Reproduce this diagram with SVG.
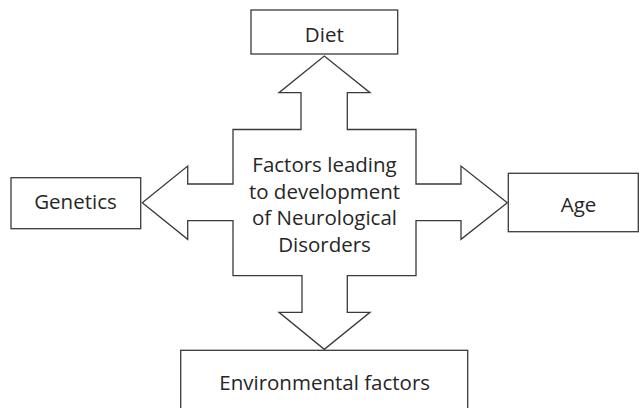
<svg xmlns="http://www.w3.org/2000/svg" width="639" height="408" viewBox="0 0 639 408">
<style>
.box{fill:#fff;stroke:#3a3a3a;stroke-width:1.3}
.arrow{fill:#fff;stroke:#3a3a3a;stroke-width:1.3;stroke-linejoin:miter}
text{font-family:"Open Sans","Liberation Sans",sans-serif;font-size:20.5px;fill:#262626;text-anchor:middle}
</style>
<rect width="639" height="408" fill="#fff"/>
<g id="connectors">
<polygon class="arrow" points="233,129.5 301,129.5 301,92.7 279,92.7 324.3,56 370,92.7 347.3,92.7 347.3,129.5 416,129.5 416,184 461,184 461,166 507.3,202.7 461,239.3 461,220.7 416,220.7 416,275.7 347.3,275.7 347.3,312.3 370,312.3 324.3,349.3 279,312.3 302,312.3 302,275.7 233,275.7 233,220.7 187.7,220.7 187.7,239.3 142.3,202.7 187.7,166 187.7,184 233,184"/>
</g>
<g id="center">
<text x="324.5" y="172">Factors leading</text>
<text x="324.5" y="198.5">to development</text>
<text x="324.5" y="225">of Neurological</text>
<text x="324.5" y="251.5">Disorders</text>
</g>
<g id="diet">
<rect class="box" x="251" y="10" width="146.7" height="44"/>
<text x="324.3" y="42.3">Diet</text>
</g>
<g id="genetics">
<rect class="box" x="11" y="177.7" width="129.7" height="51"/>
<text x="75.5" y="209">Genetics</text>
</g>
<g id="age">
<rect class="box" x="508.3" y="173.3" width="130" height="58.4"/>
<text x="578.5" y="211.7">Age</text>
</g>
<g id="environmental">
<rect class="box" x="180.7" y="350.3" width="287" height="70"/>
<text x="324.7" y="390">Environmental factors</text>
</g>
</svg>
